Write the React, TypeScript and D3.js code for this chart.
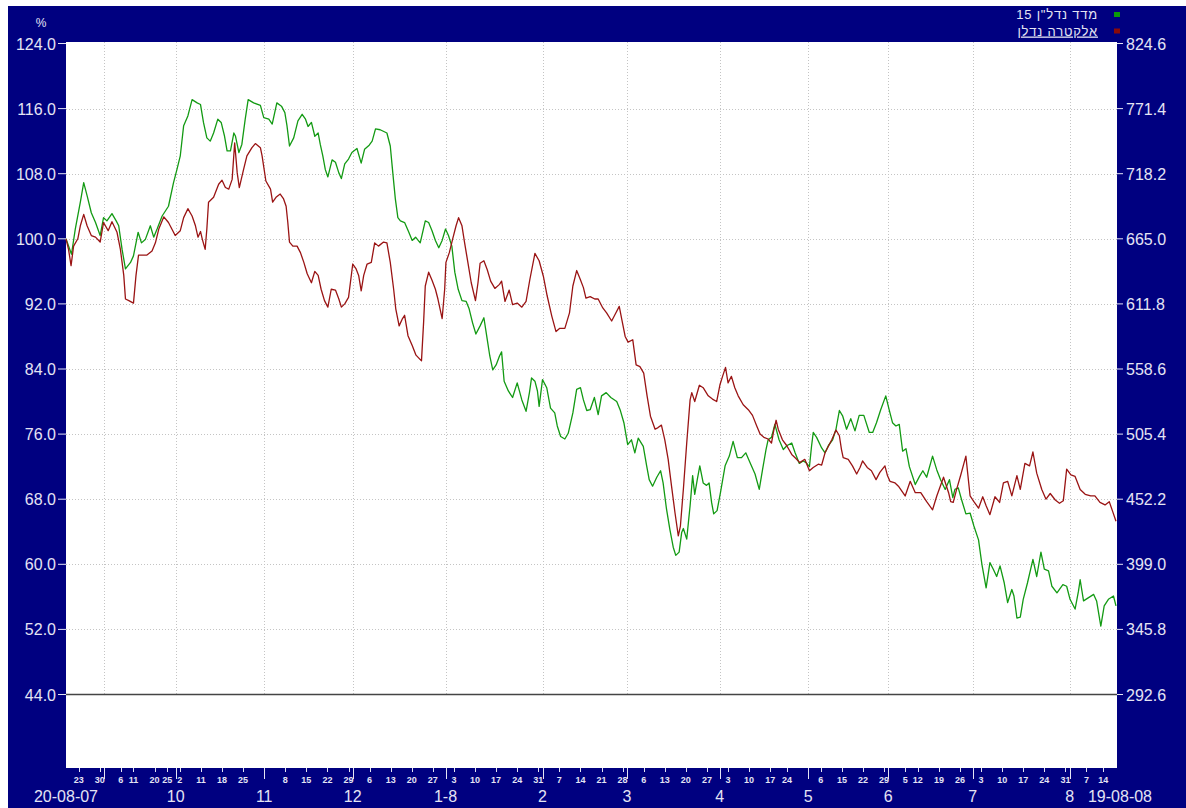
import React, { useMemo } from "react";
import * as d3 from "d3";

// ---- calendar (Tel Aviv trading days, Sun–Thu) ----
const startDate = "2007-08-20";
const endDate = "2008-08-19";
const holidays = [
  "2007-09-12", "2007-09-13", "2007-09-26", "2007-09-27", "2007-10-03", "2007-10-04",
  "2008-04-20", "2008-05-07", "2008-05-08", "2008-06-08", "2008-06-09", "2008-08-10",
];

// ---- axis labels ----
const leftTicks = [44, 52, 60, 68, 76, 84, 92, 100, 108, 116, 124];
const rightTicks = [292.6, 345.8, 399.0, 452.2, 505.4, 558.6, 611.8, 665.0, 718.2, 771.4, 824.6];
const monthLabels = ["", "10", "11", "12", "1-8", "2", "3", "4", "5", "6", "7", "8"];
const startLabel = "20-08-07";
const endLabel = "19-08-08";

// ---- legend ----
const seriesNames = ["מדד נדל\"ן 15", "אלקטרה נדלן"];
const seriesColors = ["#139a13", "#9a1414"];
const legendSwatches = ["#0a9a0a", "#8a0a0a"];

// ---- series: [trading-day index, % value] ----
const realEstate15: [number, number][] = [
  [0, 100.0], [1.3, 98.1], [2.2, 101.2], [3.4, 104.5], [4.2, 106.9], [5.0, 105.3], [6.0, 103.2], [7.0, 102.0], [8.1, 100.4], [8.9, 102.6], [9.7, 102.2], [10.9, 103.1], [11.9, 102.2], [12.5, 101.6], [13.3, 98.7], [14.1, 96.3], [15.3, 97.1], [16.0, 97.9], [17.1, 100.8], [17.9, 99.5], [18.8, 99.9], [20.0, 101.6], [20.8, 100.2], [21.6, 101.2], [22.8, 102.8], [24.3, 104.0], [25.5, 106.9], [26.3, 108.5], [27.1, 110.2], [27.9, 113.9], [28.9, 115.1], [29.9, 117.1], [31.1, 116.7], [31.9, 116.5], [32.6, 114.3], [33.4, 112.4], [34.2, 112.0], [35.0, 113.0], [36.0, 114.7], [36.8, 114.3], [37.6, 112.6], [38.2, 110.8], [39.0, 110.8], [39.8, 113.0], [40.2, 112.6], [41.0, 110.6], [41.7, 111.6], [42.5, 114.7], [43.2, 117.1], [44.5, 116.7], [46.1, 116.4], [46.9, 114.9], [48.1, 114.7], [48.9, 114.1],
  [50.0, 116.7], [51.1, 116.3], [51.9, 115.5], [52.4, 113.9], [53.0, 111.4], [54.0, 112.4], [55.0, 114.5], [56.0, 115.3], [56.8, 114.7], [57.4, 113.8], [58.2, 114.3], [59.0, 112.6], [59.8, 113.0], [60.3, 111.6], [60.9, 110.2], [61.5, 108.5], [62.1, 107.6], [63.1, 109.7], [63.9, 109.4], [64.7, 108.1], [65.3, 107.4], [66.1, 109.2], [67.0, 109.8], [67.8, 110.6], [69.0, 111.1], [70.0, 109.3], [70.8, 111.0], [71.9, 111.5], [72.6, 112.0], [73.4, 113.5], [74.5, 113.4], [76.1, 113.0], [76.9, 111.4], [77.5, 108.1], [78.1, 104.9], [78.7, 102.6], [79.3, 102.2], [80.3, 102.0], [81.3, 100.8], [82.1, 99.8], [82.9, 100.2], [84.0, 99.5], [85.2, 102.2], [86.0, 102.0], [86.8, 101.0], [87.6, 99.8], [88.4, 98.9], [89.2, 99.8], [90.0, 101.2], [90.7, 100.4], [91.5, 99.1], [92.2, 95.9], [93.0, 93.8], [93.9, 92.4], [94.9, 92.3], [95.6, 91.4], [96.4, 89.7], [97.2, 88.3],
  [98.2, 89.3], [99.1, 90.3], [99.9, 87.6], [100.5, 85.6], [101.2, 83.9], [102.0, 84.5], [102.8, 85.6], [103.3, 86.1], [103.9, 82.5], [104.9, 81.3], [105.9, 80.5], [107.0, 82.3], [108.1, 80.2], [109.1, 78.8], [109.9, 81.1], [110.4, 82.9], [111.2, 82.5], [111.8, 81.3], [112.2, 79.4], [113.0, 82.7], [114.0, 81.7], [114.9, 79.2], [115.9, 78.6], [116.5, 77.0], [117.3, 75.7], [118.3, 75.4], [119.1, 76.1], [120.2, 78.6], [121.1, 81.5], [122.0, 81.7], [122.7, 80.2], [123.5, 78.9], [124.3, 79.0], [125.3, 80.5], [126.2, 78.4], [127.0, 80.7], [128.1, 81.1], [129.2, 80.5], [130.6, 80.0], [131.4, 79.0], [132.3, 77.4], [133.2, 74.7], [134.1, 75.3], [134.9, 73.7], [135.7, 75.5],
  [136.9, 74.5], [137.7, 72.1], [138.3, 70.4], [139.1, 69.6], [140.1, 70.7], [141.0, 71.5], [141.6, 70.0], [142.4, 66.8], [143.2, 64.3], [144.0, 62.1], [144.6, 61.1], [145.4, 61.5], [146.0, 63.9], [146.4, 64.4], [147.2, 63.1], [148.0, 67.2], [148.6, 70.9], [149.1, 68.6], [149.7, 70.4], [150.3, 72.1], [151.1, 70.0], [151.9, 69.7], [152.5, 70.0], [153.1, 67.6], [153.6, 66.2], [154.4, 66.6], [155.2, 68.8], [156.3, 72.1], [157.3, 73.3], [158.2, 75.1], [159.2, 73.1], [160.2, 73.1], [161.2, 73.7], [162.2, 72.5], [163.4, 71.1], [164.4, 69.2], [165.2, 71.7], [166.0, 74.1], [166.5, 75.3], [167.3, 75.6], [168.1, 77.2], [169.1, 75.3], [170.1, 74.1], [171.0, 74.6], [172.1, 74.9], [172.9, 73.7], [173.9, 72.4], [174.8, 72.7], [175.5, 72.5], [176.3, 72.0], [176.8, 74.5], [177.2, 76.2], [178.0, 75.6], [179.2, 74.3], [180.0, 73.7], [180.8, 74.6], [181.8, 75.3], [182.6, 76.6], [183.4, 78.9], [184.2, 78.2], [185.1, 76.6], [186.1, 77.9], [187.1, 76.4], [188.1, 78.3], [189.2, 78.3], [190.5, 76.2], [191.3, 76.2], [192.2, 77.4], [193.2, 79.0], [194.4, 80.7], [195.2, 79.0], [196.0, 77.4], [196.8, 77.0], [197.6, 77.2],
  [198.4, 73.9], [199.2, 74.2], [200.0, 72.0], [201.4, 69.8], [202.4, 70.8], [203.2, 71.5], [204.1, 70.7], [205.5, 73.3], [206.5, 71.6], [207.4, 70.4], [208.5, 69.2], [209.5, 70.4], [210.3, 68.2], [210.8, 69.2], [211.6, 69.4], [212.4, 67.9], [213.4, 66.2], [214.4, 66.3], [215.3, 64.7], [216.4, 63.0], [217.2, 60.0], [218.2, 57.1], [219.1, 60.2], [219.9, 59.4], [220.7, 58.5], [221.5, 59.8], [222.5, 57.7], [223.3, 55.3], [224.3, 56.9], [224.8, 56.1], [225.5, 53.4], [226.3, 53.5], [227.0, 55.7], [228.0, 57.7], [229.3, 60.6], [230.2, 58.5], [231.2, 61.5], [232.0, 59.4], [233.0, 59.2], [233.8, 57.3], [235.0, 56.5], [236.4, 57.5], [237.3, 57.3], [238.1, 55.7], [239.3, 54.5], [240.1, 56.7], [240.5, 58.1], [241.3, 55.5], [242.5, 55.9], [243.7, 56.3], [244.4, 55.5], [245.4, 52.4], [246.2, 54.9], [247.2, 55.7], [248.4, 56.1], [249, 54.9],
];

const electraRealEstate: [number, number][] = [
  [0, 100.0], [0.6, 98.7], [1.2, 96.7], [1.8, 99.1], [2.8, 100.0], [3.4, 101.6], [4.2, 103.0], [5.0, 101.6], [6.0, 100.4], [7.0, 100.2], [8.1, 99.6], [8.9, 102.0], [10.0, 101.0], [10.9, 102.1], [12.1, 100.8], [12.9, 98.7], [13.7, 95.5], [14.1, 92.6], [14.9, 92.4], [16.0, 92.1], [16.6, 95.5], [17.2, 98.0], [18.4, 98.0], [19.2, 98.0], [20.4, 98.5], [21.2, 99.5], [22.0, 101.2], [23.2, 102.7], [24.3, 102.0], [25.1, 101.2], [25.9, 100.4], [27.1, 101.0], [27.9, 102.6], [28.9, 103.7], [29.9, 102.8], [30.7, 101.6], [31.3, 100.2], [31.9, 100.9], [32.3, 100.0], [33.0, 98.7], [33.4, 101.2], [33.8, 104.5], [35.0, 105.1], [36.2, 106.7], [37.0, 107.2], [37.8, 106.3], [38.6, 106.1], [39.4, 107.3], [40.0, 111.8], [40.6, 108.1], [41.1, 106.3], [42.1, 108.5], [42.9, 110.2], [44.1, 111.2], [44.9, 111.7], [46.1, 111.2], [46.5, 110.2], [47.4, 107.1], [48.5, 106.1], [49.0, 104.5],
  [49.8, 105.1], [50.8, 105.5], [51.6, 104.9], [52.2, 104.0], [52.6, 102.0], [53.0, 99.6], [53.8, 99.1], [54.8, 99.1], [55.6, 98.3], [56.4, 97.1], [57.2, 95.7], [58.2, 94.6], [59.0, 96.0], [59.8, 95.5], [60.5, 93.8], [61.3, 92.4], [62.1, 91.6], [62.9, 93.8], [63.9, 93.7], [64.7, 92.6], [65.3, 91.6], [66.1, 92.0], [67.0, 92.8], [68.0, 96.9], [68.8, 96.3], [69.4, 95.5], [70.0, 93.6], [70.6, 95.5], [71.4, 96.9], [72.4, 97.1], [73.2, 99.5], [74.1, 99.1], [75.3, 99.6], [76.1, 99.5], [76.9, 97.1], [77.7, 93.8], [78.2, 91.4], [79.0, 89.3], [79.8, 90.2], [80.3, 90.6], [81.1, 88.1], [82.1, 86.9], [83.0, 85.7], [84.3, 85.0], [84.8, 89.7], [85.2, 94.2], [86.0, 95.9], [86.8, 94.9], [87.6, 93.8], [88.2, 92.6], [89.2, 90.2], [89.8, 93.8], [90.1, 97.1], [90.9, 98.3], [91.7, 100.0], [92.5, 101.6], [93.1, 102.6], [93.9, 101.6], [94.5, 99.6], [95.3, 97.1], [96.1, 94.6], [97.1, 92.4], [97.7, 94.6],
  [98.2, 97.0], [99.1, 97.3], [99.9, 96.2], [100.7, 94.8], [101.7, 93.9], [102.8, 94.4], [103.3, 94.8], [104.1, 92.3], [105.1, 93.7], [105.9, 91.9], [107.0, 92.1], [108.1, 91.6], [109.1, 92.3], [110.0, 95.0], [111.2, 98.2], [112.2, 97.3], [113.2, 95.4], [114.1, 93.0], [115.2, 90.5], [116.2, 88.6], [117.1, 89.0], [118.3, 89.0], [119.4, 90.9], [120.2, 94.2], [121.1, 96.1], [121.9, 95.1], [122.7, 94.0], [123.3, 92.7], [124.3, 92.9], [125.4, 92.6], [126.2, 92.6], [127.3, 91.5], [128.2, 90.9], [129.4, 89.9], [130.2, 90.7], [131.2, 91.7], [131.8, 90.1], [132.6, 88.0], [133.3, 87.3], [134.4, 87.6], [135.2, 84.5], [136.1, 84.3],
  [137.0, 83.5], [137.8, 80.7], [138.6, 78.2], [139.7, 76.6], [140.4, 76.8], [141.2, 77.1], [142.0, 75.3], [142.8, 72.9], [143.6, 69.6], [144.4, 66.4], [145.2, 63.5], [145.7, 64.7], [146.4, 69.2], [147.2, 74.9], [148.0, 80.2], [148.4, 81.1], [149.1, 80.0], [150.2, 82.0], [151.1, 81.7], [152.3, 80.7], [153.3, 80.3], [154.3, 80.0], [155.1, 82.1], [155.7, 83.1], [156.4, 84.2], [157.0, 82.3], [157.8, 83.1], [158.6, 81.7], [159.4, 80.7], [160.6, 79.6], [161.8, 79.0], [162.8, 78.3], [163.8, 77.0], [164.6, 76.0], [165.5, 75.6], [166.5, 75.4], [167.3, 74.9], [167.9, 76.6], [168.4, 77.7], [168.9, 76.6], [169.9, 75.3], [170.9, 74.6], [172.1, 73.5], [173.1, 73.0], [174.0, 72.5], [175.2, 72.9], [176.3, 71.5], [177.2, 71.9], [178.4, 72.3], [179.2, 72.2], [180.0, 73.7], [180.8, 74.5], [181.6, 75.3], [182.6, 76.5], [183.4, 75.8], [183.9, 74.1], [184.3, 73.1], [185.5, 72.9], [186.5, 72.1], [187.5, 71.1], [188.3, 71.9], [188.9, 72.7], [190.0, 71.9], [191.0, 71.5], [192.1, 70.4], [193.0, 71.3], [194.2, 72.1], [194.8, 70.9], [195.4, 70.2], [196.6, 70.0], [197.4, 69.6],
  [199.0, 68.4], [200.2, 70.2], [201.4, 68.8], [202.7, 68.8], [204.1, 67.7], [205.5, 66.7], [206.5, 68.4], [208.1, 70.7], [209.3, 68.8], [209.8, 67.7], [210.4, 67.6], [211.2, 69.2], [212.2, 71.0], [213.4, 73.3], [214.4, 68.4], [215.3, 67.7], [216.4, 66.9], [217.4, 68.3], [218.2, 67.2], [219.1, 66.1], [220.3, 68.3], [221.4, 67.6], [222.3, 70.0], [223.3, 70.2], [224.3, 68.4], [225.5, 70.9], [226.3, 69.2], [227.4, 72.4], [228.5, 72.1], [229.3, 73.8], [230.2, 71.2], [231.4, 69.2], [232.4, 68.0], [233.4, 68.7], [234.6, 67.9], [235.6, 67.5], [236.5, 67.8], [237.3, 71.7], [238.3, 71.0], [239.3, 70.8], [240.5, 69.2], [241.7, 68.6], [243.0, 68.4], [244.0, 68.4], [245.2, 67.6], [246.4, 67.3], [247.4, 67.7], [248.2, 66.5], [249, 65.3],
];

const NAVY = "#000080";
const LABEL = "#e4e4f4";
const FONT = "'Liberation Sans', Arial, sans-serif";

export default function App() {
  const fmt = d3.utcFormat("%Y-%m-%d");
  const parse = d3.utcParse("%Y-%m-%d");

  const days = useMemo(() => {
    const s = parse(startDate)!;
    const e = d3.utcDay.offset(parse(endDate)!, 1);
    const hol = new Set(holidays);
    return d3.utcDay.range(s, e).filter((d) => d.getUTCDay() <= 4 && !hol.has(fmt(d)));
  }, []);

  const n = days.length;
  const plot = { left: 66, right: 1117, top: 42, bottom: 768 };
  const x = d3.scaleLinear().domain([0, n - 1]).range([66, 1116]);
  const y = d3.scaleLinear().domain([44, 124]).range([694.5, 43.5]);
  const yR = d3.scaleLinear().domain([292.6, 824.6]).range([694.5, 43.5]);

  const monthStarts: number[] = [];
  days.forEach((d, i) => {
    if (i > 0 && d.getUTCMonth() !== days[i - 1].getUTCMonth()) monthStarts.push(i);
  });
  const monthStartSet = new Set(monthStarts);

  const weekTicks: number[] = [];
  const lastWeek = +d3.utcSunday.floor(days[n - 1]);
  days.forEach((d, i) => {
    const wk = +d3.utcSunday.floor(d);
    const next = days[i + 1];
    if (wk === lastWeek) return;
    if (!next || +d3.utcSunday.floor(next) !== wk) {
      if (!monthStartSet.has(i)) weekTicks.push(i);
    }
  });

  const line = d3
    .line<[number, number]>()
    .x((d) => x(d[0]))
    .y((d) => y(d[1]));

  return (
    <svg
      width={1186}
      height={808}
      style={{ position: "absolute", left: 0, top: 0, display: "block" }}
      fontFamily={FONT}
    >
      <rect x={8} y={6} width={1178} height={802} fill={NAVY} />
      <rect x={plot.left} y={plot.top} width={plot.right - plot.left} height={plot.bottom - plot.top} fill="#fff" />

      {leftTicks.filter((t) => t > 44 && t < 124).map((t) => (
        <line key={"h" + t} x1={plot.left} x2={plot.right} y1={Math.round(y(t)) + 0.5} y2={Math.round(y(t)) + 0.5}
          stroke="#c4c4c4" strokeDasharray="1 2" />
      ))}
      {monthStarts.map((i) => (
        <line key={"v" + i} x1={Math.round(x(i)) + 0.5} x2={Math.round(x(i)) + 0.5} y1={plot.top} y2={694}
          stroke="#c4c4c4" strokeDasharray="1 2" />
      ))}

      <line x1={plot.left} x2={plot.right} y1={y(44)} y2={y(44)} stroke="#444" strokeWidth={1.5} />

      <path d={line(realEstate15)!} fill="none" stroke={seriesColors[0]} strokeWidth={1.3} strokeLinejoin="round" />
      <path d={line(electraRealEstate)!} fill="none" stroke={seriesColors[1]} strokeWidth={1.3} strokeLinejoin="round" />

      <text x={41} y={27} fill={LABEL} fontSize={12} textAnchor="middle">%</text>
      {leftTicks.map((t) => (
        <g key={"l" + t}>
          <line x1={58} x2={66} y1={y(t)} y2={y(t)} stroke={LABEL} />
          <text x={56} y={y(t) + 6} fill={LABEL} fontSize={16} textAnchor="end">{t.toFixed(1)}</text>
        </g>
      ))}

      {rightTicks.map((t) => (
        <g key={"r" + t}>
          <line x1={1117} x2={1123} y1={yR(t)} y2={yR(t)} stroke={LABEL} />
          <text x={1126} y={yR(t) + 6} fill={LABEL} fontSize={16} textAnchor="start">{t.toFixed(1)}</text>
        </g>
      ))}

      {weekTicks.map((i) => (
        <g key={"w" + i}>
          <line x1={Math.round(x(i)) + 0.5} x2={Math.round(x(i)) + 0.5} y1={768} y2={772} stroke={LABEL} />
          <text x={x(i)} y={783} fill={LABEL} fontSize={9} fontWeight="bold" textAnchor="middle">
            {days[i].getUTCDate()}
          </text>
        </g>
      ))}
      {monthStarts.map((i, k) => (
        <g key={"m" + i}>
          <line x1={Math.round(x(i)) + 0.5} x2={Math.round(x(i)) + 0.5} y1={768} y2={779} stroke={LABEL} />
          {monthLabels[k] ? (
            <text x={x(i)} y={802} fill={LABEL} fontSize={16} textAnchor="middle">{monthLabels[k]}</text>
          ) : null}
        </g>
      ))}
      <text x={x(0)} y={802} fill={LABEL} fontSize={16} textAnchor="middle">{startLabel}</text>
      <text x={x(n - 1) + 4} y={802} fill={LABEL} fontSize={16} textAnchor="middle">{endLabel}</text>

      {seriesNames.map((name, k) => (
        <g key={"lg" + k}>
          <rect x={1114} y={12 + k * 16.5} width={6} height={5} fill={legendSwatches[k]} />
          <text x={1098} y={19 + k * 16.5} fill={LABEL} fontSize={13} letterSpacing={0.8} textAnchor="end"
            textDecoration={k === 1 ? "underline" : undefined}>{name}</text>
        </g>
      ))}
    </svg>
  );
}
